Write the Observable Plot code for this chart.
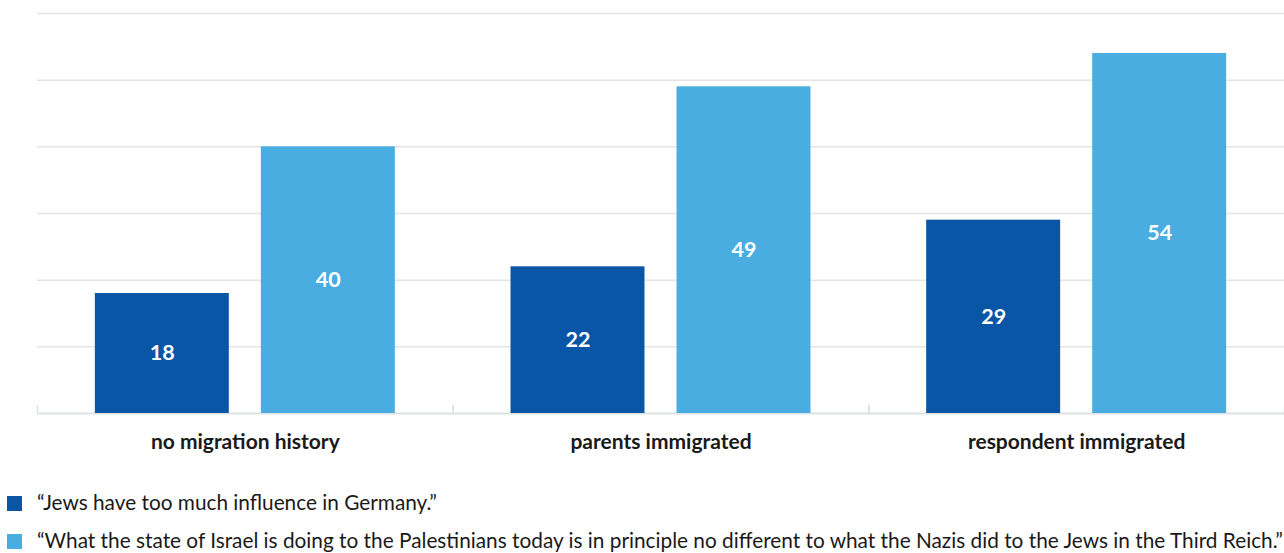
<!DOCTYPE html>
<html>
<head>
<meta charset="utf-8">
<script src="https://cdn.jsdelivr.net/npm/d3@7"></script>
<script src="https://cdn.jsdelivr.net/npm/@observablehq/plot@0.6"></script>
<style>
  html, body { margin: 0; padding: 0; background: #fff; }
  body { width: 1284px; height: 553px; overflow: hidden; font-family: Lato, "Open Sans", sans-serif; }
  #legend { position: absolute; left: 0; top: 458px; width: 1284px; font-family: Lato, sans-serif; font-size: 20.8px; color: #1a1a1a; }
  .item { position: absolute; left: 0; height: 24px; display: flex; align-items: center; white-space: nowrap; }
  .sw { position: absolute; left: 7px; top: 6px; width: 15px; height: 15px; }
  .lab { position: absolute; left: 37px; line-height: 24px; top: 0; }
</style>
</head>
<body>
<div id="chart"></div>
<div id="legend"></div>
<script>
const groups = ["no migration history", "parents immigrated", "respondent immigrated"];
const series = [
  "“Jews have too much influence in Germany.”",
  "“What the state of Israel is doing to the Palestinians today is in principle no different to what the Nazis did to the Jews in the Third Reich.”"
];
const jewsInfluence = [18, 22, 29];
const israelNazis = [40, 49, 54];
const colors = ["#0856a5", "#49ade2"];
const yTicks = [0, 10, 20, 30, 40, 50, 60];

const data = [];
groups.forEach((g, i) => {
  data.push({group: g, series: series[0], value: jewsInfluence[i]});
  data.push({group: g, series: series[1], value: israelNazis[i]});
});

const chart = Plot.plot({
  width: 1284,
  height: 458,
  marginLeft: 37,
  marginRight: 0,
  marginTop: 13,
  marginBottom: 45,
  style: {fontFamily: "Lato, sans-serif", fontSize: "21px", fontWeight: "bold", color: "#1a1a1a", background: "transparent"},
  fx: {domain: groups, paddingInner: 0, paddingOuter: 0, round: false, axis: "bottom", tickSize: 0, tickPadding: 21, label: null},
  x: {domain: series, paddingInner: 0.193, paddingOuter: 0.3485, round: false, axis: null},
  y: {domain: [0, 60], axis: null},
  color: {domain: series, range: colors},
  marks: [
    Plot.gridY(yTicks.filter(d => d > 0), {stroke: "#e4e4e4", strokeOpacity: 1, strokeWidth: 1.5}),
    Plot.ruleY([0], {stroke: "#dde2e2", strokeWidth: 2}),
    Plot.frame({anchor: "left", stroke: "#dde2e2", strokeWidth: 1.5, insetTop: 392}),
    Plot.frame({anchor: "right", stroke: "#dde2e2", strokeWidth: 1.5, insetTop: 392}),
    Plot.barY(data, {fx: "group", x: "series", y: "value", fill: "series"}),
    Plot.text(data, {fx: "group", x: "series", y: d => d.value / 2, text: d => String(d.value), fill: "white", fontSize: 21.5, fontWeight: "bold"})
  ]
});
document.getElementById("chart").appendChild(chart);

const legend = document.getElementById("legend");
const tops = [32, 70];
series.forEach((s, i) => {
  const item = document.createElement("div");
  item.className = "item";
  item.style.top = tops[i] + "px";
  const sw = document.createElement("span");
  sw.className = "sw";
  sw.style.background = colors[i];
  const lab = document.createElement("span");
  lab.className = "lab";
  lab.textContent = s;
  item.appendChild(sw);
  item.appendChild(lab);
  legend.appendChild(item);
});
</script>
</body>
</html>
